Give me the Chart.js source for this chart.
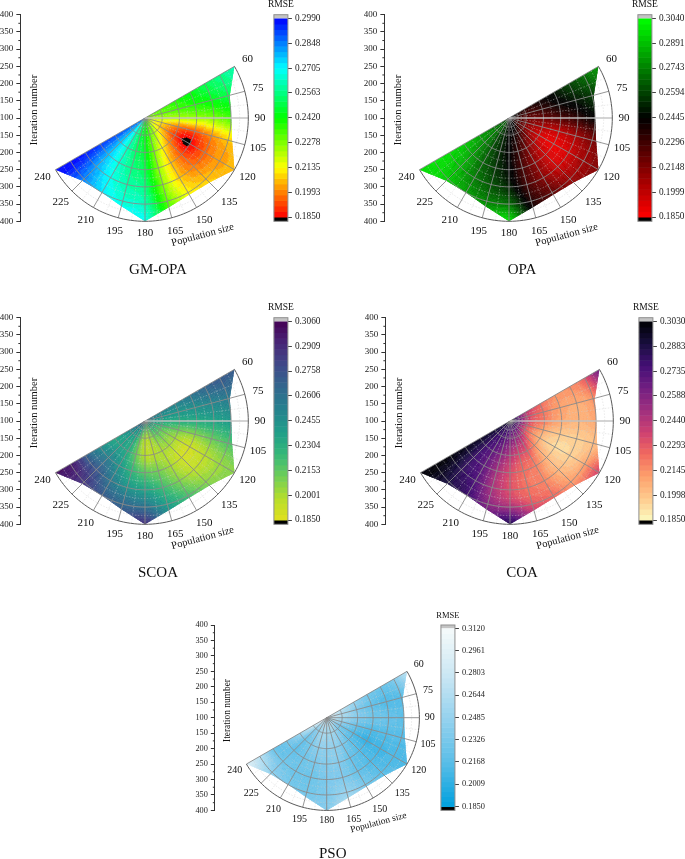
<!DOCTYPE html>
<html>
<head>
<meta charset="utf-8">
<style>
html,body{margin:0;padding:0;background:#fff;}
#wrap{position:relative;width:685px;height:859px;overflow:hidden;}
canvas{position:absolute;}
</style>
<script src="https://cdn.jsdelivr.net/npm/chart.js@4/dist/chart.umd.min.js"></script>
</head>
<body>
<div id="wrap"></div>
<script>
// ---------- DATA ----------
const populationSizes = [60,75,90,105,120,135,150,165,180,195,210,225,240];
const iterationNodes  = [100,150,200,240,290,340,400];
const iterationTicks  = [100,150,200,250,300,350,400];
// outer limit of the measured surface, one value per population size
const surfaceLimit    = [400,355,350,362,400,365,357,368,400,365,350,358,400];

const rmseGmOpa = [
 [.2278,.232,.238,.243,.250,.256,.262],
 [.226,.230,.234,.238,.243,.249,.253],
 [.224,.222,.222,.224,.227,.233,.238],
 [.222,.212,.200,.195,.200,.207,.210],
 [.222,.208,.192,.1835,.194,.202,.205],
 [.226,.214,.200,.194,.197,.205,.212],
 [.231,.224,.213,.207,.207,.212,.220],
 [.236,.232,.228,.226,.226,.230,.238],
 [.243,.244,.246,.249,.254,.260,.268],
 [.250,.251,.253,.256,.260,.265,.272],
 [.262,.262,.263,.265,.268,.272,.278],
 [.275,.276,.276,.277,.280,.284,.288],
 [.285,.287,.290,.292,.295,.298,.299]];
const rmseOpa = [
 [.250,.236,.240,.247,.258,.268,.280],
 [.245,.228,.232,.240,.248,.256,.266],
 [.245,.222,.220,.225,.232,.242,.250],
 [.240,.216,.205,.200,.205,.215,.222],
 [.240,.215,.196,.190,.194,.206,.214],
 [.242,.222,.205,.197,.196,.207,.218],
 [.250,.232,.218,.212,.212,.220,.232],
 [.250,.240,.232,.228,.228,.235,.245],
 [.246,.244,.244,.245,.250,.265,.295],
 [.255,.254,.254,.256,.262,.272,.290],
 [.262,.262,.264,.267,.272,.280,.292],
 [.272,.274,.276,.280,.285,.290,.296],
 [.262,.272,.282,.290,.295,.298,.296]];
const rmseScoa = [
 [.262,.252,.252,.258,.266,.272,.270],
 [.260,.245,.243,.245,.250,.255,.260],
 [.250,.235,.232,.232,.235,.240,.250],
 [.245,.225,.213,.208,.212,.218,.222],
 [.240,.216,.202,.192,.196,.203,.208],
 [.240,.216,.202,.192,.195,.205,.215],
 [.232,.212,.200,.200,.206,.218,.232],
 [.225,.203,.198,.208,.220,.235,.250],
 [.232,.200,.197,.212,.232,.255,.288],
 [.240,.213,.212,.224,.240,.262,.280],
 [.255,.235,.232,.240,.255,.270,.285],
 [.260,.240,.237,.250,.270,.285,.290],
 [.270,.250,.235,.245,.265,.295,.300]];
const rmseCoa = [
 [.290,.245,.225,.215,.215,.225,.265],
 [.295,.240,.222,.212,.208,.212,.235],
 [.300,.240,.220,.210,.205,.208,.220],
 [.295,.235,.210,.200,.197,.200,.210],
 [.285,.232,.205,.195,.195,.205,.235],
 [.285,.240,.215,.205,.203,.210,.225],
 [.285,.250,.230,.220,.217,.222,.235],
 [.275,.255,.235,.225,.222,.228,.250],
 [.280,.262,.245,.235,.232,.242,.285],
 [.283,.270,.258,.250,.247,.255,.272],
 [.285,.277,.270,.268,.272,.278,.285],
 [.285,.282,.280,.280,.283,.288,.292],
 [.290,.292,.295,.297,.300,.302,.3025]];
const rmsePso = [
 [.295,.270,.250,.235,.225,.232,.270],
 [.290,.265,.240,.225,.215,.215,.230],
 [.290,.260,.240,.230,.225,.220,.225],
 [.280,.250,.225,.215,.215,.215,.215],
 [.270,.235,.215,.205,.208,.210,.210],
 [.260,.235,.220,.215,.212,.215,.225],
 [.270,.250,.235,.225,.222,.230,.245],
 [.270,.255,.245,.240,.235,.245,.265],
 [.270,.255,.245,.240,.235,.235,.240],
 [.270,.260,.245,.235,.228,.228,.240],
 [.275,.250,.235,.228,.225,.230,.245],
 [.285,.245,.225,.220,.225,.240,.260],
 [.300,.280,.255,.235,.222,.260,.290]];

const ticksGmOpa = [.1850,.1993,.2135,.2278,.2420,.2563,.2705,.2848,.2990];
const ticksOpa   = [.1850,.1999,.2148,.2296,.2445,.2594,.2743,.2891,.3040];
const ticksScoa  = [.1850,.2001,.2153,.2304,.2455,.2606,.2758,.2909,.3060];
const ticksCoa   = [.1850,.1998,.2145,.2293,.2440,.2588,.2735,.2883,.3030];
const ticksPso   = [.1850,.2009,.2168,.2326,.2485,.2644,.2803,.2961,.3120];

// ---------- COLOUR RAMPS (low to high) ----------
const rampRainbow = [[255,0,0],[255,255,0],[0,255,0],[0,255,255],[0,0,255]];
const rampRedGreen = [[255,0,0],[0,0,0],[0,255,0]];
const rampViridis = [[225,224,30],[181,222,43],[110,206,88],[53,183,121],[31,158,137],[38,130,142],[49,104,142],[62,74,137],[72,40,120],[68,1,84]];
const rampMagma = [[252,250,191],[254,202,141],[253,160,108],[241,105,95],[205,64,113],[158,47,127],[114,31,129],[68,15,118],[24,15,62],[0,0,4]];
const rampBlue = [[0,160,222],[90,190,232],[150,210,238],[205,232,244],[245,250,250]];

// ---------- PANEL LAYOUT ----------
const panels = [
 {name:'GM-OPA',values:rmseGmOpa,ticks:ticksGmOpa,ramp:rampRainbow,left:0,top:0,w:345,h:300,cx:145,cy:118,R:103.3,scale:1,titleDx:13,axisLine:true},
 {name:'OPA',values:rmseOpa,ticks:ticksOpa,ramp:rampRedGreen,left:364,top:0,w:321,h:300,cx:145,cy:118,R:103.3,scale:1,titleDx:13,axisLine:true},
 {name:'SCOA',values:rmseScoa,ticks:ticksScoa,ramp:rampViridis,left:0,top:303,w:345,h:300,cx:145,cy:118,R:103.3,scale:1,titleDx:13,axisLine:true},
 {name:'COA',values:rmseCoa,ticks:ticksCoa,ramp:rampMagma,left:365,top:303,w:320,h:300,cx:145,cy:118,R:103.3,scale:1,titleDx:12,axisLine:true},
 {name:'PSO',values:rmsePso,ticks:ticksPso,ramp:rampBlue,left:194,top:610,w:320,h:249,cx:132.7,cy:107.7,R:92.7,scale:.897,titleDx:6,axisLine:false}
];

// ---------- HELPERS ----------
const SERIF = '"Liberation Serif","Times New Roman",serif';
const LEVELS = 36;
function rampColor(ramp,t){
  t=Math.max(0,Math.min(1,t));
  const q=(Math.floor(t*LEVELS)+.5)/LEVELS, f=q*(ramp.length-1), i=Math.min(ramp.length-2,Math.floor(f)), k=f-i;
  const c=ramp[i].map((a,j)=>Math.round(a+(ramp[i+1][j]-a)*k));
  return `rgb(${c[0]},${c[1]},${c[2]})`;
}
function cr(a,b,c,d,t){return .5*(2*b+(c-a)*t+(2*a-5*b+4*c-d)*t*t+(3*b-a-3*c+d)*t*t*t);}
function nodeIndex(arr,v){
  let i=0; while(i<arr.length-2&&v>arr[i+1])i++;
  return i+(v-arr[i])/(arr[i+1]-arr[i]);
}
function surface(vals,pop,iter){
  const fa=nodeIndex(populationSizes,pop), fr=nodeIndex(iterationNodes,iter);
  const ia=Math.floor(Math.min(fa,populationSizes.length-1.001)), ir=Math.floor(Math.min(fr,iterationNodes.length-1.001));
  const ta=fa-ia, tr=fr-ir, rows=[];
  for(let a=ia-1;a<=ia+2;a++){
    const row=vals[Math.max(0,Math.min(populationSizes.length-1,a))];
    const g=k=>row[Math.max(0,Math.min(iterationNodes.length-1,k))];
    rows.push(cr(g(ir-1),g(ir),g(ir+1),g(ir+2),tr));
  }
  return cr(rows[0],rows[1],rows[2],rows[3],ta);
}
const polarX=(pop,iter)=>(iter-100)*Math.sin(pop*Math.PI/180);
const polarY=(pop,iter)=>(iter-100)*Math.cos(pop*Math.PI/180);

const panelPlugin = {
  id:'panelPlugin',
  afterDatasetsDraw(chart){
    const p=chart.options.plugins.panelPlugin.panel, {ctx,chartArea:ca,scales}=chart;
    const sx=scales.x, sy=scales.y, cb=scales.cb, s=p.scale;
    const px=(pop,it)=>sx.getPixelForValue(polarX(pop,it)), py=(pop,it)=>sy.getPixelForValue(polarY(pop,it));
    const lo=p.ticks[0], hi=p.ticks[p.ticks.length-1];
    const colorOf=v=>v<lo?'#000':rampColor(p.ramp,(v-lo)/(hi-lo));
    ctx.save();
    // surface
    ctx.save();
    ctx.beginPath();
    ctx.moveTo(px(60,100),py(60,100));
    populationSizes.forEach((pop,i)=>ctx.lineTo(px(pop,surfaceLimit[i]),py(pop,surfaceLimit[i])));
    ctx.closePath();
    ctx.clip();
    const dA=1.5, dR=4;
    for(let a=60;a<240;a+=dA){
      for(let r=100;r<400;r+=dR){
        const v=surface(p.values,a+dA/2,r+dR/2), col=colorOf(v);
        ctx.beginPath();
        ctx.moveTo(px(a,r),py(a,r));
        ctx.lineTo(px(a+dA,r),py(a+dA,r));
        ctx.lineTo(px(a+dA,r+dR),py(a+dA,r+dR));
        ctx.lineTo(px(a,r+dR),py(a,r+dR));
        ctx.closePath();
        ctx.fillStyle=col; ctx.strokeStyle=col; ctx.lineWidth=.6;
        ctx.fill(); ctx.stroke();
      }
    }
    ctx.restore();
    // polar grid
    const arc=(it)=>{ctx.beginPath();for(let a=60;a<=240;a+=2){const x=px(a,it),y=py(a,it);a===60?ctx.moveTo(x,y):ctx.lineTo(x,y);}ctx.stroke();};
    const spoke=(pop,from)=>{ctx.beginPath();ctx.moveTo(px(pop,from),py(pop,from));ctx.lineTo(px(pop,400),py(pop,400));ctx.stroke();};
    ctx.strokeStyle='rgba(205,205,205,.6)';ctx.lineWidth=.7;ctx.setLineDash([1.5,1.5]);
    for(let it=125;it<400;it+=50)arc(it);
    for(let a=67.5;a<240;a+=15)spoke(a,125);
    ctx.setLineDash([]);
    ctx.strokeStyle='#8a8a8a';ctx.lineWidth=.9;
    for(let it=150;it<400;it+=50)arc(it);
    populationSizes.forEach(pop=>{ if(pop!==90||!p.axisLine)spoke(pop,100); });
    if(p.axisLine){ctx.strokeStyle='rgba(195,195,195,.95)';ctx.lineWidth=1.5;spoke(90,100);}
    ctx.strokeStyle='#5a5a5a';ctx.lineWidth=1;arc(400);
    // angular labels
    ctx.fillStyle='#111';ctx.textAlign='center';ctx.textBaseline='middle';
    ctx.font=`${11*(s<1?.91:1)}px ${SERIF}`;
    const c0x=sx.getPixelForValue(0), c0y=sy.getPixelForValue(0);
    populationSizes.forEach(pop=>{
      const th=pop*Math.PI/180, rr=(115+4*Math.abs(Math.sin(2*th)))*s;
      ctx.fillText(String(pop),c0x+rr*Math.sin(th),c0y-rr*Math.cos(th));
    });
    // minor ticks on the iteration axis
    ctx.strokeStyle='#333';ctx.lineWidth=1;
    for(let v=-275;v<300;v+=50){
      const y=sy.getPixelForValue(v);
      ctx.beginPath();ctx.moveTo(ca.left,y);ctx.lineTo(ca.left-2,y);ctx.stroke();
    }
    // axis titles
    ctx.font=`${10.5*s}px ${SERIF}`;
    ctx.save();ctx.translate(c0x-111*s,c0y-8*s);ctx.rotate(-Math.PI/2);ctx.fillText('Iteration number',0,0);ctx.restore();
    ctx.save();ctx.translate(c0x+57.7*s,c0y+117*s);ctx.rotate(-15*Math.PI/180);ctx.fillText('Population size',0,0);ctx.restore();
    // colour bar
    const bw=14, br=ca.right, bl=br-bw, yHi=cb.getPixelForValue(hi), yLo=cb.getPixelForValue(lo);
    ctx.fillStyle='#c4c4c4';ctx.fillRect(bl,ca.top,bw,yHi-ca.top);
    ctx.fillStyle='#000';ctx.fillRect(bl,yLo,bw,ca.bottom-yLo);
    for(let i=0;i<LEVELS;i++){
      const a=lo+(hi-lo)*i/LEVELS, b=lo+(hi-lo)*(i+1)/LEVELS;
      ctx.fillStyle=rampColor(p.ramp,(i+.5)/LEVELS);
      const y1=cb.getPixelForValue(b), y0=cb.getPixelForValue(a);
      ctx.fillRect(bl,y1,bw,y0-y1+.5);
    }
    ctx.strokeStyle='#8f8f8f';ctx.lineWidth=1;ctx.strokeRect(bl,ca.top,bw,ca.bottom-ca.top);
    ctx.fillStyle='#111';ctx.font=`${9.5*s}px ${SERIF}`;
    ctx.fillText('RMSE',bl+bw/2,ca.top-10.5*s);
    // panel title
    ctx.font=`15px ${SERIF}`;
    ctx.fillText(p.name,c0x+p.titleDx,c0y+152*s);
    ctx.restore();
  }
};

panels.forEach(p=>{
  const cv=document.createElement('canvas');
  cv.width=p.w;cv.height=p.h;
  cv.style.left=p.left+'px';cv.style.top=p.top+'px';
  cv.style.width=p.w+'px';cv.style.height=p.h+'px';
  document.getElementById('wrap').appendChild(cv);
  const s=p.scale, unit=p.R/300;
  const areaLeft=p.cx-362*unit, areaRight=p.cx+415*unit;
  const lo=p.ticks[0], hi=p.ticks[p.ticks.length-1];
  const insetTop=3.8*s, insetBot=4.3*s, perPx=(hi-lo)/(2*p.R-insetTop-insetBot);
  const nodes=[];
  populationSizes.forEach((pop,i)=>iterationNodes.forEach((it,j)=>{
    if(it<=surfaceLimit[i]) nodes.push({x:polarX(pop,it),y:polarY(pop,it),rmse:p.values[i][j]});
  }));
  new Chart(cv.getContext('2d'),{
    type:'scatter',
    data:{datasets:[{label:p.name,data:nodes,pointRadius:0,pointHoverRadius:0,showLine:false,yAxisID:'y',xAxisID:'x'}]},
    options:{
      responsive:false,animation:false,devicePixelRatio:1,
      events:[],
      layout:{padding:{left:0,right:0,top:p.cy-p.R,bottom:p.h-p.cy-p.R}},
      plugins:{legend:{display:false},tooltip:{enabled:false},title:{display:false},panelPlugin:{panel:p}},
      scales:{
        x:{type:'linear',display:false,min:-362,max:415},
        y:{type:'linear',position:'left',min:-300,max:300,
          afterFit(sc){sc.width=areaLeft;},
          afterBuildTicks(sc){
            const t=new Set();iterationTicks.forEach(v=>{t.add(v-100);t.add(100-v);});
            sc.ticks=[...t].sort((a,b)=>a-b).map(value=>({value}));
          },
          border:{display:true,color:'#333',width:1},
          grid:{drawOnChartArea:false,drawTicks:true,tickLength:4,color:'#333'},
          ticks:{autoSkip:false,padding:3,color:'#222',font:{family:SERIF,size:9*(s<1?.92:1)},
            callback:v=>String(Math.abs(v)+100)}
        },
        cb:{type:'linear',position:'right',min:lo-insetBot*perPx,max:hi+insetTop*perPx,
          afterFit(sc){sc.width=p.w-areaRight;},
          afterBuildTicks(sc){sc.ticks=p.ticks.map(value=>({value}));},
          border:{display:false},
          grid:{drawOnChartArea:false,drawTicks:true,tickLength:4,color:'#444'},
          ticks:{autoSkip:false,padding:3,color:'#222',font:{family:SERIF,size:9*s+.3},
            callback:v=>Number(v).toFixed(4)}
        }
      }
    },
    plugins:[panelPlugin]
  });
});
</script>
</body>
</html>
